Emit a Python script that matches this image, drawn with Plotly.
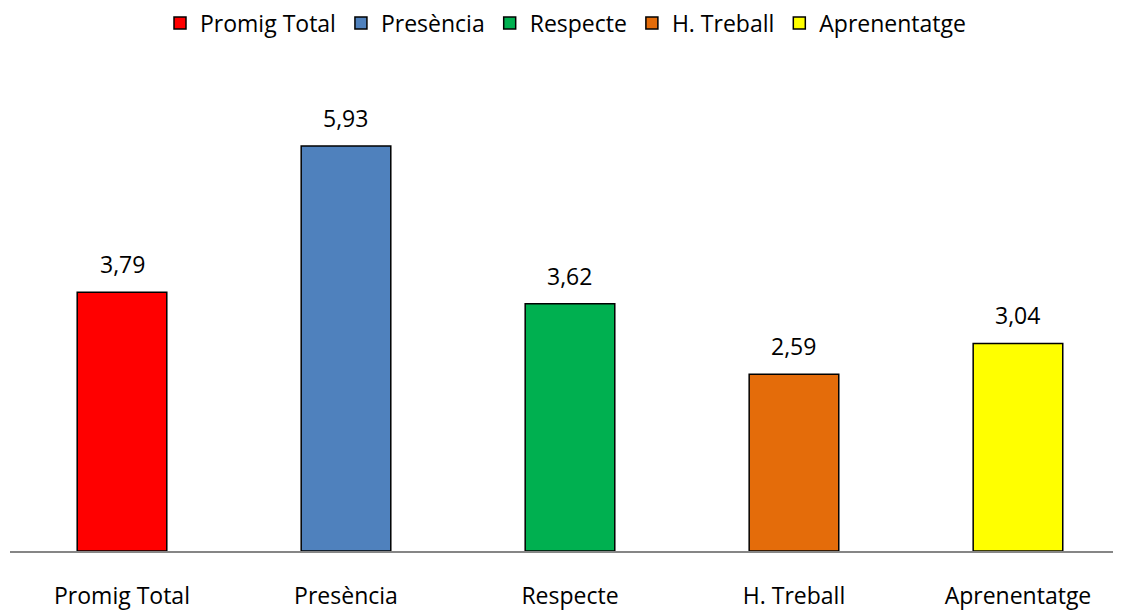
import plotly.graph_objects as go

categories = ["Promig Total", "Presència", "Respecte", "H. Treball", "Aprenentatge"]
values = [3.79, 5.93, 3.62, 2.59, 3.04]
labels = ["3,79", "5,93", "3,62", "2,59", "3,04"]
colors = ["#FF0000", "#4F81BD", "#00B050", "#E46C0A", "#FFFF00"]

FONT = "Open Sans"
FS = 23

fig = go.Figure()
for c, v, col in zip(categories, values, colors):
    fig.add_trace(go.Bar(
        x=[c], y=[v], name=c, width=0.4,
        marker=dict(color=col, line=dict(color="#000000", width=1.5)),
    ))

for c, v, t in zip(categories, values, labels):
    fig.add_annotation(x=c, y=v, text=t, showarrow=False, yanchor="bottom",
                       yshift=10, font=dict(family=FONT, size=FS, color="#000000"))

# page body has an 8px margin, so the figure is 8px smaller than the window
fig.update_layout(
    width=1113, height=604,
    margin=dict(l=2, r=0, t=52, b=61, autoexpand=False),
    paper_bgcolor="white", plot_bgcolor="white",
    barmode="overlay",
    font=dict(family=FONT, size=FS, color="#000000"),
    legend=dict(orientation="h", x=0.5, xanchor="center", y=1.0754, yref="paper",
                yanchor="middle", font=dict(family=FONT, size=FS), itemwidth=30,
                tracegroupgap=0),
    xaxis=dict(range=[-0.5, 4.46], showline=True, linecolor="#868686", linewidth=1.5,
               ticks="outside", ticklen=24, tickcolor="rgba(0,0,0,0)", automargin=False,
               tickfont=dict(family=FONT, size=FS), showgrid=False, zeroline=False),
    yaxis=dict(range=[0, 7.19], visible=False, showgrid=False, zeroline=False,
               automargin=False),
)

fig.write_html("out.html")
